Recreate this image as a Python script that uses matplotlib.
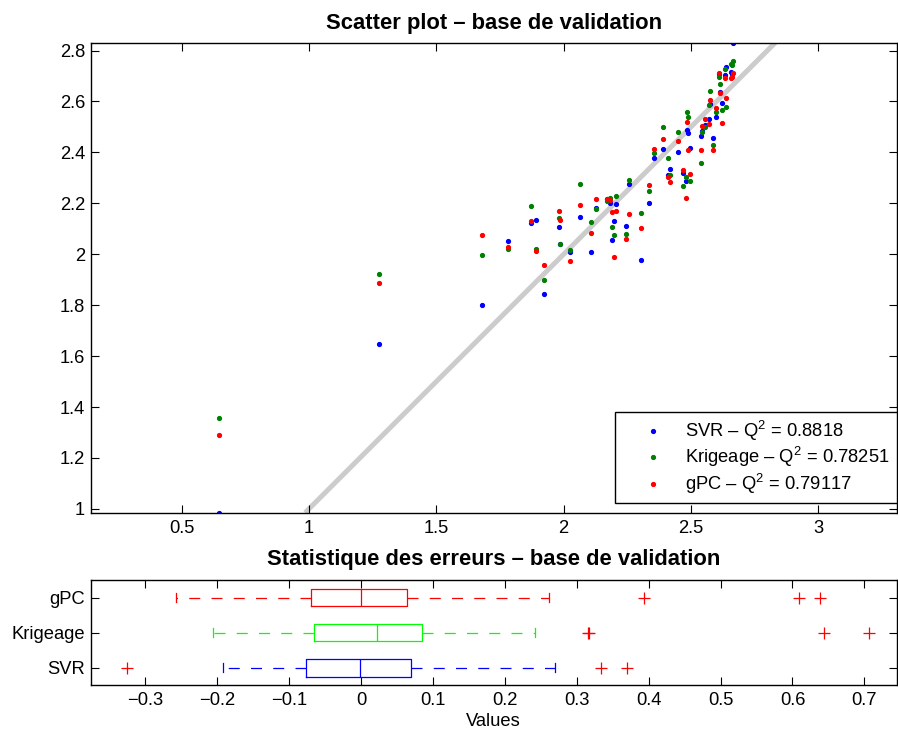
import matplotlib
matplotlib.use('Agg')
import numpy as np
import matplotlib.pyplot as plt
from matplotlib.ticker import FuncFormatter

plt.rcParams['font.family'] = ['Liberation Sans', 'DejaVu Sans']
plt.rcParams['mathtext.fontset'] = 'custom'
plt.rcParams['mathtext.rm'] = 'Liberation Sans'
plt.rcParams['mathtext.it'] = 'Liberation Sans'
plt.rcParams['font.size'] = 13.2

# valeurs vraies de la base de validation
y_true = [0.647, 1.275, 1.679, 1.782, 1.872, 1.892, 1.923, 1.982, 1.986, 2.025,
          2.064, 2.108, 2.127, 2.170, 2.182, 2.190, 2.198, 2.206, 2.245, 2.257,
          2.304, 2.335, 2.355, 2.390, 2.410, 2.418, 2.449, 2.469, 2.481, 2.485,
          2.489, 2.496, 2.540, 2.544, 2.555, 2.571, 2.575, 2.587, 2.599, 2.610,
          2.614, 2.622, 2.638, 2.634, 2.657, 2.665, 2.661]
# predictions des trois modeles
pred_svr = [0.985, 1.648, 1.801, 2.052, 2.123, 2.135, 1.844, 2.107, 2.040, 2.009,
            2.146, 2.009, 2.182, 2.217, 2.201, 2.056, 2.131, 2.197, 2.111, 2.276,
            1.978, 2.201, 2.378, 2.413, 2.311, 2.335, 2.402, 2.319, 2.288, 2.488,
            2.476, 2.417, 2.465, 2.484, 2.508, 2.531, 2.590, 2.457, 2.539, 2.707,
            2.637, 2.594, 2.735, 2.703, 2.715, 2.831, 2.707]
pred_krig = [1.357, 1.923, 1.997, 2.021, 2.190, 2.021, 1.899, 2.142, 2.040, 2.017,
             2.276, 2.127, 2.178, 2.209, 2.221, 2.107, 2.077, 2.229, 2.080, 2.292,
             2.162, 2.249, 2.398, 2.500, 2.378, 2.311, 2.480, 2.268, 2.304, 2.559,
             2.539, 2.288, 2.358, 2.480, 2.500, 2.586, 2.641, 2.429, 2.559, 2.695,
             2.668, 2.567, 2.578, 2.727, 2.747, 2.759, 2.743]
pred_gpc = [1.291, 1.887, 2.076, 2.029, 2.131, 2.013, 1.958, 2.170, 2.135, 1.974,
            2.194, 2.084, 2.217, 2.217, 2.213, 2.166, 1.989, 2.170, 2.060, 2.158,
            2.103, 2.272, 2.413, 2.453, 2.304, 2.284, 2.445, 2.331, 2.221, 2.520,
            2.410, 2.315, 2.410, 2.504, 2.531, 2.511, 2.606, 2.410, 2.574, 2.711,
            2.633, 2.515, 2.614, 2.691, 2.691, 2.711, 2.695]
q2 = [0.8818, 0.78251, 0.79117]

# statistiques des erreurs (boxplot)
models = ['SVR', 'Krigeage', 'gPC']
err_q1 = [-0.077, -0.065, -0.069]
err_med = [-0.002, 0.022, 0.000]
err_q3 = [0.070, 0.085, 0.064]
err_wlo = [-0.192, -0.206, -0.257]
err_whi = [0.270, 0.242, 0.262]
err_out = [[-0.325, 0.334, 0.370],
           [0.315, 0.317, 0.644, 0.706],
           [0.393, 0.609, 0.638]]

fig = plt.figure(figsize=(8.98, 7.32), dpi=100)
ax1 = fig.add_axes([0.101, 0.2996, 0.8976, 0.6421])
ax2 = fig.add_axes([0.101, 0.0638, 0.8976, 0.1439])

lo = min(pred_svr + pred_krig + pred_gpc)
hi = max(pred_svr + pred_krig + pred_gpc)
ax1.plot([lo, hi], [lo, hi], color='#cccccc', lw=3.6, solid_capstyle='butt', zorder=1)
cols = ['#0000ff', '#008000', '#ff0000']
for p, name, q, c in zip([pred_svr, pred_krig, pred_gpc], models, q2, cols):
    ax1.plot(y_true, p, '.', color=c, ms=5.5, zorder=2,
             label=name + ' \u2013 Q$^{2}$ = ' + str(q))

ax1.set_xlim(0.143, 3.308)
ax1.set_ylim(lo, hi)
ax1.set_xticks([0.5, 1, 1.5, 2, 2.5, 3])
ax1.set_yticks(np.arange(5, 15) / 5)
ax1.set_title('Scatter plot \u2013 base de validation', fontweight='bold', pad=10)
leg = ax1.legend(loc='lower right', bbox_to_anchor=(1.0, 0.02), borderaxespad=0,
                 fancybox=False, edgecolor='k', framealpha=1, handlelength=3.3,
                 handletextpad=0.1, labelspacing=0.13, borderpad=0.4)
leg.get_frame().set_linewidth(1.0)

stats = []
for i in range(3):
    stats.append(dict(med=err_med[i], q1=err_q1[i], q3=err_q3[i],
                      whislo=err_wlo[i], whishi=err_whi[i], fliers=err_out[i]))
bx_cols = ['#0000ff', '#00ff00', '#ff0000']
bp = ax2.bxp(stats, positions=[1, 2, 3], widths=0.5, orientation='horizontal',
             capwidths=0.25, showfliers=True)
for i, c in enumerate(bx_cols):
    bp['boxes'][i].set(color=c, lw=0.9)
    bp['medians'][i].set(color=c, lw=0.9)
    for k in (2 * i, 2 * i + 1):
        bp['whiskers'][k].set(color=c, lw=0.9, linestyle=(0, (8.8, 9)))
        bp['caps'][k].set(color=c, lw=0.9)
    bp['fliers'][i].set(marker='+', markeredgecolor='#ff0000', markersize=8, mew=0.9)

ax2.set_xlim(-0.376, 0.745)
ax2.set_ylim(0.5, 3.5)
ax2.set_xticks(np.arange(-3, 8) / 10)
ax2.xaxis.set_major_formatter(FuncFormatter(lambda v, p: ('%g' % v).replace('-', '\u2212')))
ax2.set_yticks([1, 2, 3], models)
ax2.set_xlabel('Values', labelpad=3)
ax2.set_title('Statistique des erreurs \u2013 base de validation', fontweight='bold', pad=11)

ax1.xaxis.set_major_formatter(FuncFormatter(lambda v, p: '%g' % v))
ax1.yaxis.set_major_formatter(FuncFormatter(lambda v, p: '%g' % v))
for ax in (ax1, ax2):
    ax.tick_params(direction='in', top=True, right=True, length=6, width=0.8)
    ax.tick_params(axis='x', pad=5)
    ax.tick_params(axis='y', pad=4)
    for s in ax.spines.values():
        s.set_linewidth(1.0)

fig.savefig('out.png', dpi=100)
